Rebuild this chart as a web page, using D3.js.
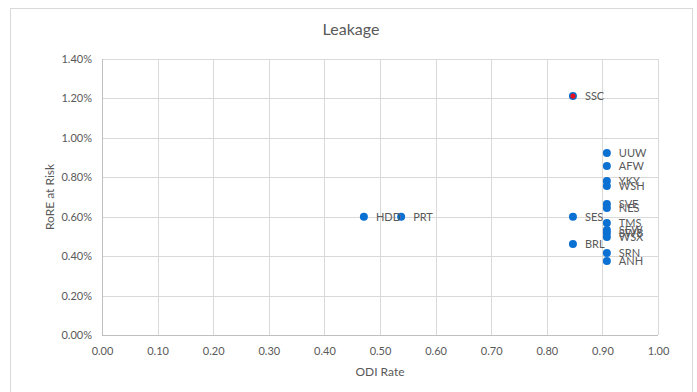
<!DOCTYPE html>
<html>
<head>
<meta charset="utf-8">
<script src="https://cdn.jsdelivr.net/npm/d3@7"></script>
<style>
  html, body { margin: 0; padding: 0; background: #fff; }
  svg { display: block; font-family: Lato, "Open Sans", sans-serif; }
</style>
</head>
<body>
<svg id="chart" width="697" height="392"></svg>
<script>
// Company codes, ODI rate and RoRE at risk (%)
const companies = ["SSC", "HDD", "PRT", "SES", "BRL", "UUW", "AFW", "YKY", "WSH", "SVE", "NES", "TMS", "SEW", "SWB", "WSX", "SRN", "ANH"];
const odiRate   = [0.847, 0.471, 0.538, 0.847, 0.847, 0.908, 0.908, 0.908, 0.908, 0.908, 0.908, 0.908, 0.908, 0.908, 0.908, 0.908, 0.908];
const roreRisk  = [1.212, 0.600, 0.600, 0.600, 0.462, 0.923, 0.857, 0.781, 0.756, 0.664, 0.644, 0.568, 0.533, 0.517, 0.497, 0.416, 0.375];
const highlighted = ["SSC"];

const xTicks = [0, 0.1, 0.2, 0.3, 0.4, 0.5, 0.6, 0.7, 0.8, 0.9, 1.0];
const yTicks = [0, 0.2, 0.4, 0.6, 0.8, 1.0, 1.2, 1.4];

const title = "Leakage";
const xTitle = "ODI Rate";
const yTitle = "RoRE at Risk";

const svg = d3.select("#chart");
const margin = { left: 102, right: 39, top: 59, bottom: 57 };
const W = 697, H = 392;

const x = d3.scaleLinear().domain([0, 1]).range([margin.left, W - margin.right]);
const y = d3.scaleLinear().domain([0, 1.4]).range([H - margin.bottom, margin.top]);

const textGrey = "#595959";
const gridGrey = "#d9d9d9";
const blue = "#0a70d2";

// Outer chart frame
svg.append("rect")
  .attr("x", 10.5).attr("y", 8.5)
  .attr("width", 682).attr("height", 400)
  .attr("fill", "none").attr("stroke", gridGrey);

// Gridlines
svg.append("g")
  .selectAll("line.v")
  .data(xTicks)
  .join("line")
  .attr("x1", d => Math.round(x(d)) + 0.5).attr("x2", d => Math.round(x(d)) + 0.5)
  .attr("y1", y(0)).attr("y2", y(1.4))
  .attr("stroke", gridGrey);

svg.append("g")
  .selectAll("line.h")
  .data(yTicks)
  .join("line")
  .attr("x1", x(0)).attr("x2", x(1))
  .attr("y1", d => Math.round(y(d)) + 0.5).attr("y2", d => Math.round(y(d)) + 0.5)
  .attr("stroke", gridGrey);

// Axis lines
svg.append("line")
  .attr("x1", Math.round(x(0)) + 0.5).attr("x2", Math.round(x(0)) + 0.5)
  .attr("y1", y(0)).attr("y2", y(1.4))
  .attr("stroke", "#bfbfbf");
svg.append("line")
  .attr("x1", x(0)).attr("x2", x(1))
  .attr("y1", Math.round(y(0)) + 0.5).attr("y2", Math.round(y(0)) + 0.5)
  .attr("stroke", "#bfbfbf");

// Axes (labels only)
const xAxis = d3.axisBottom(x).tickValues(xTicks).tickFormat(d3.format(".2f")).tickSize(0).tickPadding(12);
const yAxis = d3.axisLeft(y).tickValues(yTicks).tickFormat(d => d.toFixed(2) + "%").tickSize(0).tickPadding(10);

const gx = svg.append("g").attr("transform", `translate(0,${y(0)})`).call(xAxis);
const gy = svg.append("g").attr("transform", `translate(${x(0)},0)`).call(yAxis);
[gx, gy].forEach(g => {
  g.select(".domain").remove();
  g.selectAll("text").attr("fill", textGrey).style("font-size", "11px").style("font-family", "Lato, 'Open Sans', sans-serif");
});

// Titles
svg.append("text")
  .attr("x", 351).attr("y", 35)
  .attr("text-anchor", "middle")
  .attr("fill", textGrey)
  .style("font-size", "16px")
  .text(title);

svg.append("text")
  .attr("x", (x(0) + x(1)) / 2).attr("y", 376)
  .attr("text-anchor", "middle")
  .attr("fill", textGrey)
  .style("font-size", "12px")
  .text(xTitle);

svg.append("text")
  .attr("transform", `translate(54,${(y(0) + y(1.4)) / 2}) rotate(-90)`)
  .attr("text-anchor", "middle")
  .attr("fill", textGrey)
  .style("font-size", "12px")
  .text(yTitle);

// Points
const pts = companies.map((c, i) => ({ name: c, x: odiRate[i], y: roreRisk[i] }));

const gp = svg.append("g");
gp.selectAll("circle.pt")
  .data(pts)
  .join("circle")
  .attr("class", "pt")
  .attr("cx", d => x(d.x)).attr("cy", d => y(d.y))
  .attr("r", 4)
  .attr("fill", blue);

gp.selectAll("circle.hl")
  .data(pts.filter(d => highlighted.includes(d.name)))
  .join("circle")
  .attr("class", "hl")
  .attr("cx", d => x(d.x)).attr("cy", d => y(d.y))
  .attr("r", 2.6)
  .attr("fill", "#e8101e");

// Point labels
gp.selectAll("text.lbl")
  .data(pts)
  .join("text")
  .attr("class", "lbl")
  .attr("x", d => x(d.x) + 12)
  .attr("y", d => y(d.y) + 4)
  .attr("fill", textGrey)
  .style("font-size", "11px")
  .text(d => d.name);
</script>
</body>
</html>
